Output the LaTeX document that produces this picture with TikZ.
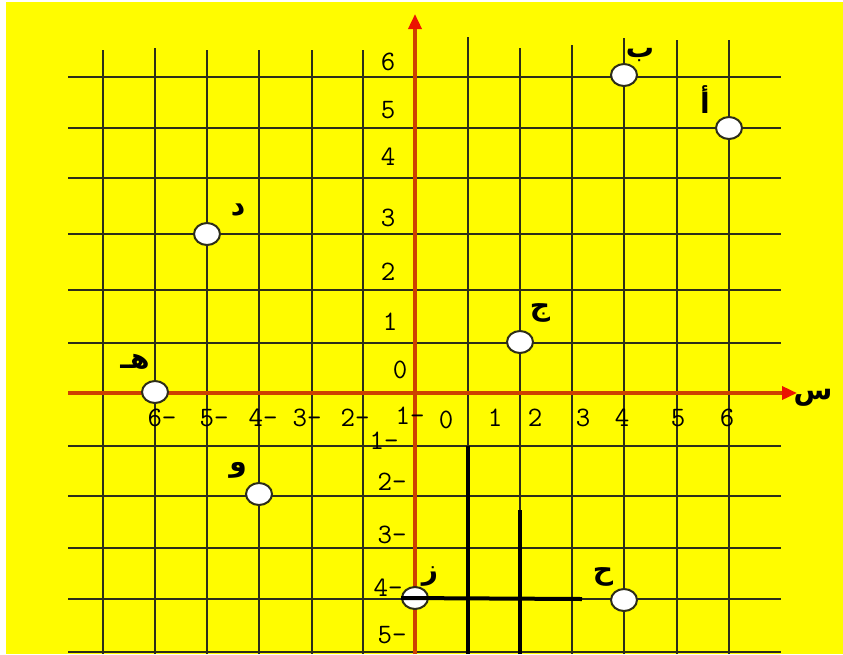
\documentclass[tikz,border=0pt]{standalone}
\usepackage{fontspec}
\newfontfamily\arabicfont[Script=Arabic]{DejaVu Sans}
\TeXXeTstate=1
\usetikzlibrary{arrows,arrows.meta,positioning,shapes.geometric}
\definecolor{gul}{RGB}{255,252,0}
\definecolor{aksrod}{RGB}{205,65,0}
\definecolor{pilrod}{RGB}{235,20,0}
\definecolor{gitterfarve}{RGB}{45,45,25}
\tikzset{
	%Define standard arrow tip
	>={Triangle[length=0.3cm,width=0.26cm,color=pilrod]},
	%Define style for grid lines
	gitter/.style={
		draw=gitterfarve,
		line width=0.04cm},
	% Define style for the red axes
	akse/.style={
		->,
		draw=aksrod,
		line width=0.07cm},
	% Define style for the points
	pkt/.style={
		ellipse,
		draw=gitterfarve, line width=0.04cm,
		fill=white,
		minimum width=0.52cm,
		minimum height=0.44cm,
		inner sep=0pt},
	% Define style for letters and numbers
	bogstav/.style={
		font=\arabicfont\bfseries\fontsize{16}{18}\selectfont,
		inner sep=0pt},
	tal/.style={
		font=\ttfamily\fontsize{16}{18}\selectfont,
		inner sep=0pt},
	% Define style for thick black lines
	streg/.style={
		draw=black,
		line width=0.08cm}
}

\begin{document}
\begin{tikzpicture}[x=0.02cm, y=-0.02cm]
	\useasboundingbox (0,0) rectangle (843,654);
	\fill[white] (0,0) rectangle (843,654);
	\fill[gul] (6,2) rectangle (843,654);

	% grid
	\foreach \gx/\gt in {103/50,155/48,207/50,259/50,312/50,363/50,468/37,520/48,572/45,624/38,677/40,729/40}
		\draw[gitter] (\gx,\gt) -- (\gx,654);
	\foreach \gy in {77,128,178,234,290,343,446,496,548,599,652}
		\draw[gitter] (68,\gy) -- (781,\gy);

	% axes
	\coordinate (xstart) at (68,393);
	\coordinate (xend) at (797,393);
	\coordinate (ystart) at (415,654);
	\coordinate (yend) at (415,14);
	\draw[akse] (xstart) -- (xend);
	\draw[akse] (ystart) -- (yend);
	\node[bogstav] (xnavn) at (813,398) {\beginR س\endR};

	% numbers
	\foreach \t/\px/\py [count=\i] in {6/388/62,5/388/110,4/388/157,3/388/218,2/388/272,1/390/322,0/400/370,1-/384/441,2-/392/482,3-/392/535,4-/388/588,5-/392/635}
		\node[tal] (ytal\i) at (\px,\py) {\t};
	\foreach \t/\px/\py [count=\i] in {6-/162/418,5-/214/418,4-/263/418,3-/307/418,2-/355/418,1-/410/416,0/446/420,1/495/418,2/535/418,3/583/418,4/622/418,5/678/418,6/727/418}
		\node[tal] (xtal\i) at (\px,\py) {\t};

	% black lines
	\coordinate (s1top) at (468,446);
	\coordinate (s1bund) at (468,654);
	\coordinate (s2top) at (520,510);
	\coordinate (s2bund) at (520,654);
	\coordinate (s3slut) at (582,599);
	\draw[streg] (s1top) -- (s1bund);
	\draw[streg] (s2top) -- (s2bund);

	% points
	\node[pkt] (b) at (624,75) {};
	\node[pkt] (a) at (729,128) {};
	\node[pkt] (d) at (207,234) {};
	\node[pkt] (j) at (520,342) {};
	\node[pkt] (h) at (155,392) {};
	\node[pkt] (w) at (259,494) {};
	\node[pkt] (z) at (415,598) {};
	\node[pkt] (hh) at (624,600) {};
	\draw[streg] (z.west) -- (s3slut);

	\node[bogstav] (b-navn) at (640,55) {\beginR ب\endR};
	\node[bogstav] (a-navn) at (705,100) {\beginR أ\endR};
	\node[bogstav] (d-navn) at (238,210) {\beginR د\endR};
	\node[bogstav] (j-navn) at (540,313) {\beginR ج\endR};
	\node[bogstav] (h-navn) at (135,362) {\beginR هـ\endR};
	\node[bogstav] (w-navn) at (238,470) {\beginR و\endR};
	\node[bogstav] (z-navn) at (430,577) {\beginR ز\endR};
	\node[bogstav] (hh-navn) at (603,577) {\beginR ح\endR};

\end{tikzpicture}
\end{document}
